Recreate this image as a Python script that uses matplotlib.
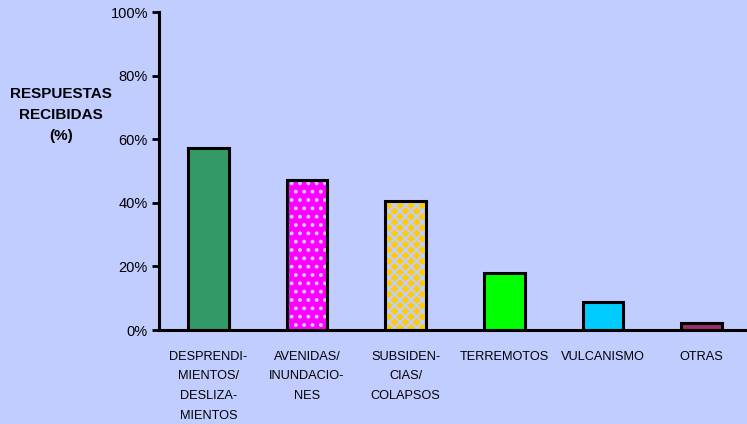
import matplotlib.pyplot as plt

categories = ['DESPRENDI-\nMIENTOS/\nDESLIZA-\nMIENTOS', 'AVENIDAS/\nINUNDACIO-\nNES',
              'SUBSIDEN-\nCIAS/\nCOLAPSOS', 'TERREMOTOS', 'VULCANISMO', 'OTRAS']
values = [57.2, 47.2, 40.6, 17.9, 8.8, 2.2]
colors = ['#339966', '#FF00FF', '#FFCC00', '#00FF00', '#00CCFF', '#993366']
hatches = [None, '..', 'xxx', None, None, None]
yticks = [0, 20, 40, 60, 80, 100]

bg = '#C1CCFF'
plt.rcParams['font.family'] = ['Liberation Sans', 'DejaVu Sans']
plt.rcParams['hatch.linewidth'] = 1.6

fig = plt.figure(figsize=(7.47, 4.24), dpi=100, facecolor=bg)
ax = fig.add_axes([159 / 747, 1 - 330 / 424, 1 - 159 / 747, 318 / 424])
ax.set_facecolor(bg)

x = [i + 0.5 for i in range(len(values))]
for xi, v, c, h in zip(x, values, colors, hatches):
    if h:
        ax.bar(xi, v, width=0.41, color=c, edgecolor=bg, hatch=h, linewidth=0, zorder=2)
    else:
        ax.bar(xi, v, width=0.41, color=c, linewidth=0, zorder=2)
ax.bar(x, values, width=0.41, fill=False, edgecolor='black', linewidth=2.2, zorder=3)

ax.set_xlim(0, 5.96)
ax.set_ylim(0, 100)
ax.set_yticks(yticks)
ax.set_yticklabels([f'{t}%' for t in yticks], fontsize=10.5)
ax.tick_params(axis='y', direction='out', length=5, width=2, pad=3)
ax.set_xticks(x)
ax.set_xticklabels(categories, fontsize=9.2, va='top', linespacing=1.85)
ax.tick_params(axis='x', length=0, pad=15)
for s in ['top', 'right']:
    ax.spines[s].set_visible(False)
ax.spines['left'].set_linewidth(2.2)
ax.spines['bottom'].set_linewidth(2.2)

fig.text(61 / 747, 1 - 115 / 424, 'RESPUESTAS\nRECIBIDAS\n(%)', ha='center', va='center',
         fontsize=11, fontweight='bold', linespacing=1.65)

fig.savefig('out.png', dpi=100, facecolor=bg)
